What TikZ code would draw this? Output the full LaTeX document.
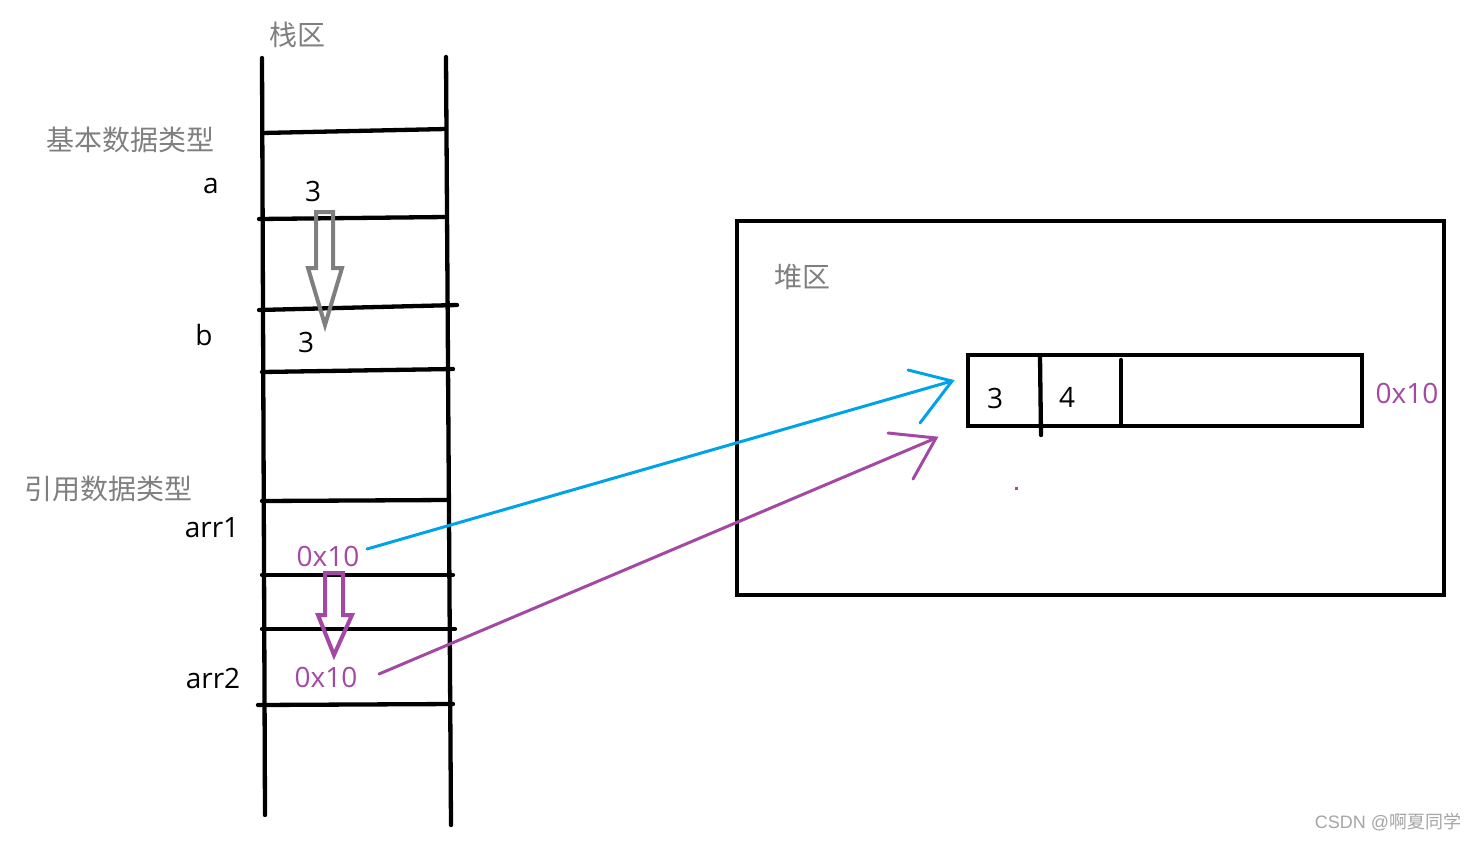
\documentclass[tikz,border=0pt]{standalone}
\usepackage{fontspec}
\setmainfont{Noto Sans CJK SC}
\newfontfamily\latinfont{Open Sans}
\newfontfamily\markfont{Liberation Sans}
\definecolor{paintblue}{RGB}{0,162,232}
\definecolor{paintpurple}{RGB}{163,73,164}
\definecolor{labelgray}{RGB}{127,127,127}
\definecolor{markgray}{RGB}{165,165,165}
\begin{document}
\begin{tikzpicture}[x=1pt,y=-1pt,
  lbl/.style={inner sep=0pt, font=\fontsize{28}{30}\selectfont},
  latlbl/.style={inner sep=0pt, font=\latinfont\fontsize{28}{30}\selectfont},
  graylbl/.style={lbl, text=labelgray},
  purplelbl/.style={latlbl, text=paintpurple},
  stackline/.style={line width=4.3pt, line cap=round},
  boxline/.style={line width=4.3pt},
  bluelink/.style={draw=paintblue, line width=3pt, line cap=round},
  purplelink/.style={draw=paintpurple, line width=3pt, line cap=round},
  hollow/.style={line width=4pt, line join=miter}
]
\useasboundingbox (0,0) rectangle (1479,841);

% stack walls
\draw[stackline] (262,58) -- (265,815);
\draw[stackline] (446,57) -- (451,825);
% stack rows
\draw[stackline] (262,133) -- (446,129);
\draw[stackline] (259,219) -- (446,217);
\draw[stackline] (259,310) -- (457,305);
\draw[stackline] (262,372) -- (453,369);
\draw[stackline] (262,501) -- (448,500);
\draw[stackline] (262,575) -- (453,575);
\draw[stackline] (262,629) -- (455,629);
\draw[stackline] (258,705) -- (453,704);

% stack labels
\node[graylbl] (stk) at (297,35) {栈区};
\node[graylbl] (basic) at (130,140) {基本数据类型};
\node[latlbl] (la) at (211,186) {a};
\node[latlbl] (lb) at (204,335) {b};
\node[graylbl] (ref) at (108,489) {引用数据类型};
\node[latlbl] (larr1) at (212,528) {arr1};
\node[latlbl] (larr2) at (213,678) {arr2};

% stack values
\node[latlbl] (va) at (313,191) {3};
\node[latlbl] (vb) at (306,342) {3};
\node[purplelbl] (v1) at (328,556) {0x10};
\node[purplelbl] (v2) at (326,677) {0x10};

% hollow copy arrows
\draw[hollow, draw=labelgray] (316,212) -- (333,212) -- (333,268) -- (342,268) -- (325,325) -- (308,268) -- (316,268) -- cycle;
\draw[hollow, draw=paintpurple] (325,573) -- (343,573) -- (343,615) -- (352,615) -- (334,655) -- (318,615) -- (325,615) -- cycle;

% heap
\draw[boxline] (737,221) rectangle (1444,595);
\node[graylbl] (heap) at (802,277) {堆区};
\draw[boxline] (968,355) rectangle (1362,426);
\node (arr) at (1165,390.5) [minimum width=394pt, minimum height=71pt, inner sep=0pt] {};
\draw[stackline] (1040,357) -- (1041,435);
\draw[stackline] (1121,360) -- (1121,424);
\node[latlbl] (h3) at (995,398) {3};
\node[latlbl] (h4) at (1067,397) {4};
\node[purplelbl] (haddr) at (1407,393) {0x10};
\fill[paintpurple] (1014.5,486.5) rectangle (1018,490);

% reference links
\coordinate (s1) at (367,549);
\coordinate (t1) at (952,381);
\coordinate (s2) at (379,674);
\coordinate (t2) at (936,438);
\draw[bluelink] (s1) -- (t1);
\draw[bluelink] (908,370) -- (t1) -- (920,423);
\draw[purplelink] (s2) -- (t2);
\draw[purplelink] (888,433) -- (t2) -- (913,479);

% watermark
\node[inner sep=0pt, text=markgray, font=\fontsize{18}{20}\selectfont] (wm) at (1388,822) {{\markfont CSDN @}啊夏同学};
\end{tikzpicture}
\end{document}
